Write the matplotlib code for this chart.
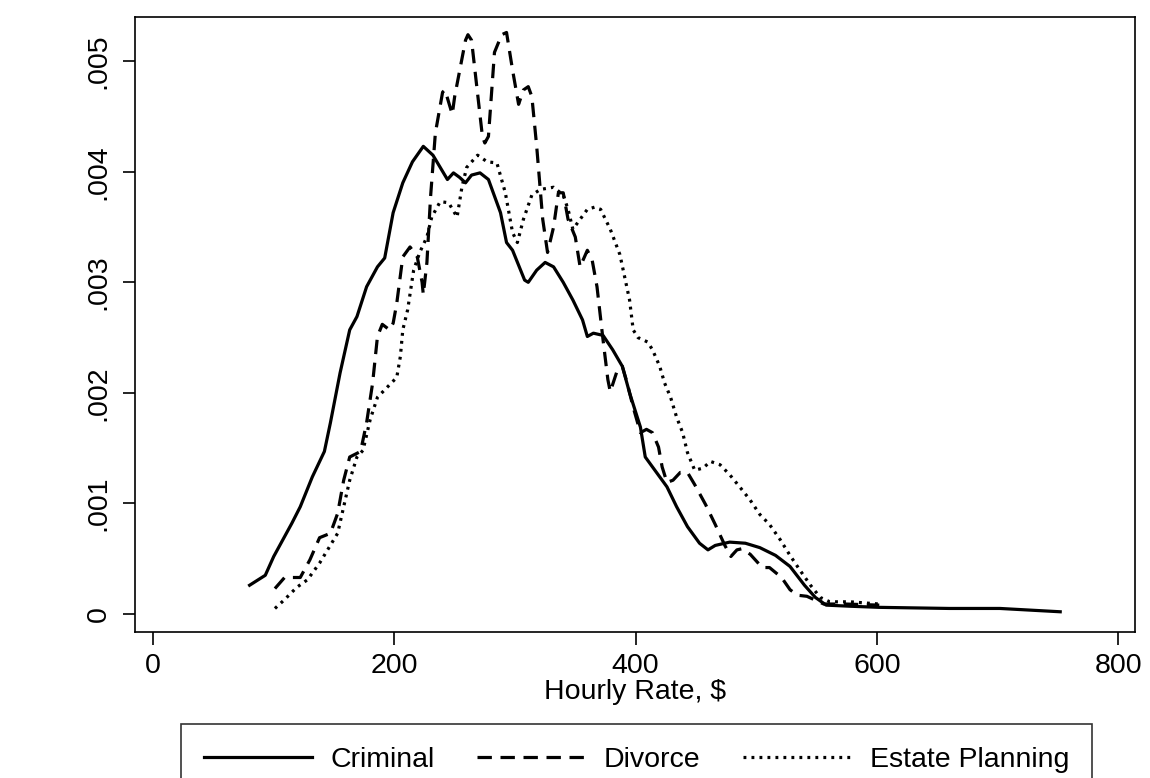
"""
Kernel density of hourly rates by practice area (Stata-style line chart).
"""

import matplotlib
matplotlib.use("Agg")
import matplotlib.pyplot as plt
from matplotlib.ticker import FixedLocator, FixedFormatter

plt.rcParams["font.family"] = ["Liberation Sans", "DejaVu Sans"]

# density values are in units of 1e-3
criminal_x = [80, 93, 100, 115, 122, 132, 142, 147, 155, 163, 169, 177, 186, 192,
              199, 207, 215, 224, 232, 244, 249, 254, 259, 264, 271, 278, 288, 293,
              298, 308, 311, 318, 325, 332, 340, 348, 356, 360, 365, 373, 381, 389,
              395, 404, 408, 414, 426, 434, 443, 453, 460, 466, 478, 491, 503, 516,
              528, 540, 549, 558, 578, 602, 660, 702, 752]
criminal_y = [0.26, 0.35, 0.52, 0.82, 0.97, 1.24, 1.47, 1.73, 2.18, 2.57, 2.69, 2.96, 3.14, 3.22,
              3.63, 3.90, 4.09, 4.23, 4.15, 3.93, 3.99, 3.95, 3.90, 3.97, 3.99, 3.93, 3.63, 3.36,
              3.29, 3.02, 3.00, 3.11, 3.18, 3.14, 3.00, 2.84, 2.66, 2.51, 2.54, 2.52, 2.39, 2.24,
              2.00, 1.69, 1.42, 1.33, 1.15, 0.97, 0.79, 0.64, 0.58, 0.62, 0.65, 0.64, 0.60, 0.53,
              0.43, 0.26, 0.15, 0.08, 0.07, 0.06, 0.05, 0.05, 0.02]

divorce_x = [101, 109, 122, 130, 138, 147, 153, 158, 163, 172, 177, 182, 186, 190,
             196, 199, 202, 207, 213, 219, 223, 224, 227, 230, 234, 240, 242, 248,
             250, 259, 261, 264, 273, 275, 278, 283, 289, 293, 298, 303, 307, 311,
             314, 318, 323, 327, 332, 336, 340, 344, 350, 354, 360, 364, 368, 373,
             377, 379, 385, 389, 393, 398, 404, 409, 414, 419, 422, 426, 431, 437,
             443, 449, 458, 466, 474, 479, 484, 488, 495, 505, 511, 521, 528, 534,
             542, 556, 574, 602]
divorce_y = [0.23, 0.33, 0.33, 0.49, 0.69, 0.73, 0.91, 1.21, 1.42, 1.47, 1.73, 2.09, 2.51, 2.62,
             2.57, 2.63, 2.81, 3.23, 3.32, 3.23, 3.00, 2.89, 3.18, 3.77, 4.35, 4.72, 4.74, 4.52,
             4.68, 5.19, 5.24, 5.19, 4.32, 4.26, 4.32, 5.08, 5.24, 5.26, 4.92, 4.61, 4.74, 4.77,
             4.68, 4.23, 3.57, 3.27, 3.50, 3.81, 3.81, 3.57, 3.41, 3.14, 3.29, 3.20, 2.96, 2.48,
             2.12, 2.01, 2.21, 2.24, 2.09, 1.87, 1.64, 1.67, 1.64, 1.51, 1.33, 1.19, 1.21, 1.28,
             1.28, 1.17, 0.99, 0.81, 0.62, 0.52, 0.58, 0.59, 0.54, 0.42, 0.42, 0.33, 0.22, 0.17,
             0.16, 0.09, 0.09, 0.08]

estate_x = [101, 109, 119, 128, 138, 153, 158, 163, 169, 174, 180, 186, 194, 202,
            205, 207, 211, 216, 221, 227, 231, 238, 245, 252, 256, 260, 269, 277,
            285, 292, 298, 302, 307, 314, 321, 332, 340, 344, 348, 352, 360, 366,
            371, 379, 387, 395, 398, 402, 410, 414, 420, 424, 429, 434, 439, 443,
            449, 456, 462, 470, 478, 487, 495, 503, 511, 520, 528, 536, 545, 553,
            561, 578, 602]
estate_y = [0.05, 0.13, 0.24, 0.31, 0.46, 0.73, 0.97, 1.21, 1.42, 1.48, 1.76, 1.96, 2.05, 2.14,
            2.33, 2.57, 2.75, 3.11, 3.27, 3.41, 3.59, 3.73, 3.72, 3.59, 3.86, 4.04, 4.15, 4.09,
            4.08, 3.81, 3.45, 3.36, 3.57, 3.79, 3.84, 3.86, 3.79, 3.66, 3.48, 3.54, 3.66, 3.68,
            3.66, 3.48, 3.25, 2.84, 2.57, 2.50, 2.46, 2.39, 2.24, 2.09, 1.96, 1.78, 1.64, 1.46,
            1.30, 1.32, 1.38, 1.35, 1.26, 1.14, 1.03, 0.90, 0.81, 0.67, 0.53, 0.40, 0.26, 0.15,
            0.11, 0.11, 0.09]

x_ticks = [0, 200, 400, 600, 800]
y_ticks = [0, 0.001, 0.002, 0.003, 0.004, 0.005]
y_tick_labels = ["0", ".001", ".002", ".003", ".004", ".005"]
series_names = ["Criminal", "Divorce", "Estate Planning"]

FS = 20.5

fig = plt.figure(figsize=(11.5, 7.78), dpi=100)
ax = fig.add_axes([135 / 1150, 146 / 778, 1000 / 1150, 615 / 778])

lw = 2.3
ax.plot(criminal_x, [v / 1000 for v in criminal_y], color="black", lw=lw,
        solid_joinstyle="round", label=series_names[0])
ax.plot(divorce_x, [v / 1000 for v in divorce_y], color="black", lw=lw,
        linestyle=(0, (4.5, 2.7)), label=series_names[1])
ax.plot(estate_x, [v / 1000 for v in estate_y], color="black", lw=lw,
        linestyle=(0, (0.9, 1.6)), label=series_names[2])

ax.set_xlim(-15, 814)
ax.set_ylim(-0.000163, 0.0054)

ax.xaxis.set_major_locator(FixedLocator(x_ticks))
ax.yaxis.set_major_locator(FixedLocator(y_ticks))
ax.yaxis.set_major_formatter(FixedFormatter(y_tick_labels))
ax.tick_params(axis="both", direction="out", length=9, width=1.2,
               labelsize=FS, color="black")
ax.tick_params(axis="x", pad=6)
ax.tick_params(axis="y", pad=8)
for lab in ax.get_yticklabels():
    lab.set_rotation(90)
    lab.set_va("center")

for spine in ax.spines.values():
    spine.set_linewidth(1.2)

ax.set_xlabel("Hourly Rate, $", fontsize=FS, labelpad=0)

# legend box runs off the bottom edge, as in the original export
leg = fig.legend(loc="upper center", bbox_to_anchor=(636.5 / 1150, 1 - 724 / 778),
                 ncol=3, fontsize=FS, frameon=True, fancybox=False,
                 handlelength=3.8, handletextpad=0.65, columnspacing=1.5,
                 borderaxespad=0.0, borderpad=0.8)
leg.get_frame().set_edgecolor("black")
leg.get_frame().set_linewidth(1.2)

fig.savefig("out.png", dpi=100)
plt.close(fig)
